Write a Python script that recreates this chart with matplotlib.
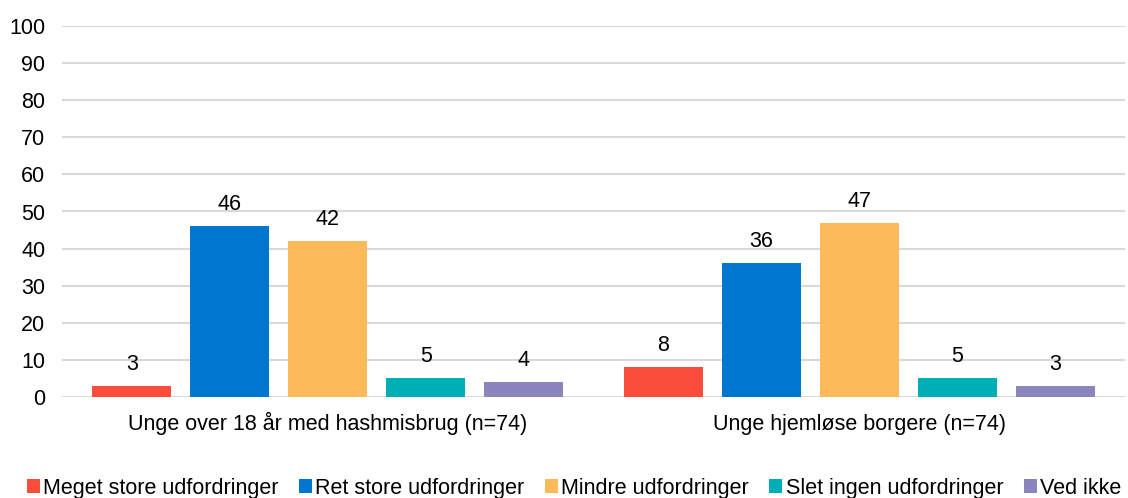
import numpy as np
import matplotlib
matplotlib.use("Agg")
import matplotlib.pyplot as plt

plt.rcParams['font.family'] = ['Liberation Sans', 'DejaVu Sans']

categories = ['Unge over 18 år med hashmisbrug (n=74)', 'Unge hjemløse borgere (n=74)']
series = ['Meget store udfordringer', 'Ret store udfordringer', 'Mindre udfordringer',
          'Slet ingen udfordringer', 'Ved ikke']
values = [
    [3, 8],
    [46, 36],
    [42, 47],
    [5, 5],
    [4, 3],
]
colors = ['#F94C3B', '#0076CE', '#FDBA5A', '#00AEB5', '#8A85BD']

fs = 15.5
fig = plt.figure(figsize=(11.28, 4.98), dpi=100)
ax = fig.add_axes([62 / 1128, 1 - 397 / 498, 1063 / 1128, 371 / 498])

x = np.arange(len(categories))
step = 0.1844
width = 0.1486
for i, (name, vals, col) in enumerate(zip(series, values, colors)):
    pos = x + (i - 2) * step
    bars = ax.bar(pos, vals, width, color=col, label=name, zorder=3)
    for b, v in zip(bars, vals):
        ax.annotate(str(v), (b.get_x() + b.get_width() / 2, v), xytext=(0, 8),
                    textcoords='offset points', ha='center', va='bottom', fontsize=fs)

ax.set_xlim(-0.5, 1.5)
ax.set_ylim(0, 100)
ax.set_yticks(range(0, 101, 10))
ax.set_xticks(x)
ax.set_xticklabels(categories, va='baseline')
ax.tick_params(axis='both', length=0, labelsize=fs)
ax.tick_params(axis='x', pad=24)
ax.tick_params(axis='y', pad=12)
ax.grid(axis='y', color='#D9D9D9', linewidth=1.5, zorder=0)
for s in ax.spines.values():
    s.set_visible(False)

fig.legend(loc='lower center', bbox_to_anchor=(0.509, -0.04), ncol=5, frameon=False,
           fontsize=fs, handlelength=0.6, handleheight=0.6, handletextpad=0.15,
           columnspacing=0.95)

fig.savefig('out.png', dpi=100)
